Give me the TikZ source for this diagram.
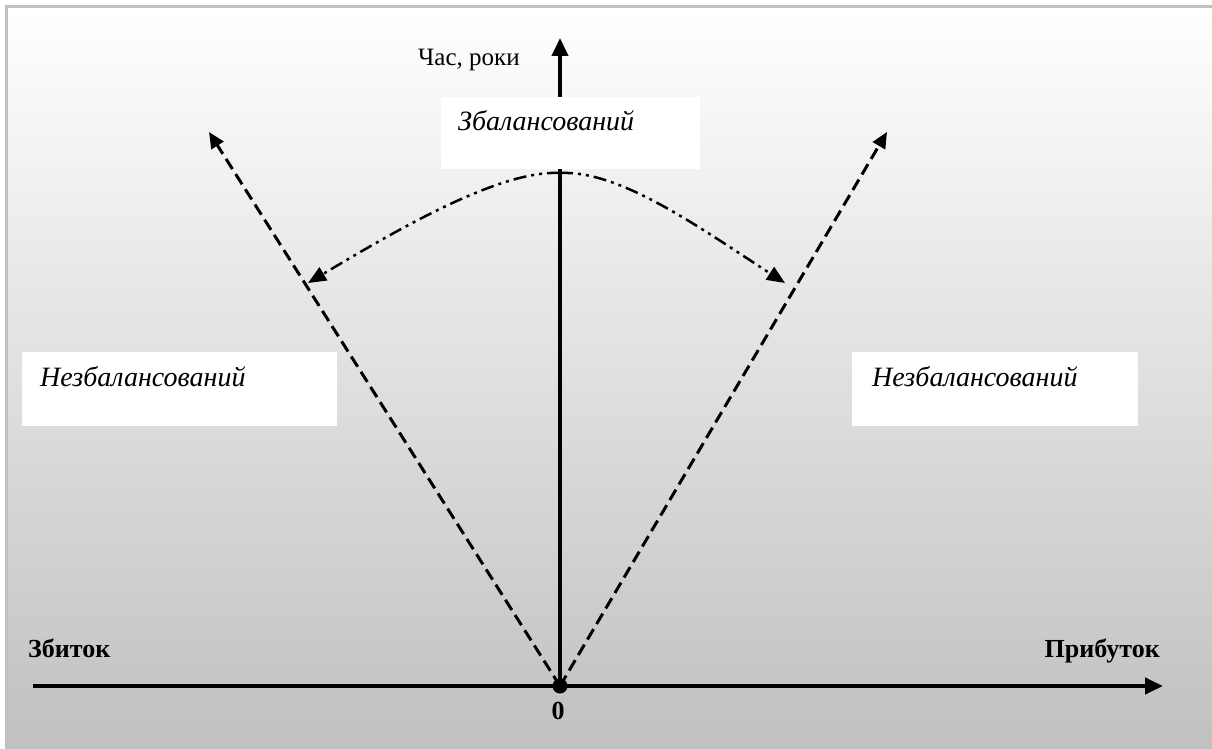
\documentclass[tikz,border=0pt]{standalone}
\usepackage{fontspec}
\setmainfont{Liberation Serif}
\usetikzlibrary{arrows.meta}
\definecolor{frameGray}{RGB}{192,192,192}
\definecolor{bgBottom}{RGB}{192,192,192}
\tikzset{
  axisline/.style={line width=4pt, -{Triangle[length=18pt,width=16pt]}},
  dashline/.style={line width=3pt, dash pattern=on 12pt off 6pt, -{Triangle[length=16pt,width=14pt]}},
  dotline/.style={line width=2.5pt, dash pattern=on 13pt off 5pt on 3pt off 5pt on 3pt off 5pt, -{Triangle[length=18pt,width=15pt]}},
  whitebox/.style={fill=white, anchor=north west, inner ysep=0pt, align=left,
     font=\fontsize{28}{32}\selectfont\itshape},
  axlabel/.style={font=\fontsize{26}{30}\selectfont\bfseries, inner sep=0pt},
}
\begin{document}
\begin{tikzpicture}[x=1pt,y=-1pt]
\useasboundingbox (0,0) rectangle (1212,749);
\shade[top color=white, bottom color=bgBottom] (6,6) rectangle (1212,749);
\draw[frameGray, line width=3pt] (6.5,749) -- (6.5,6.5) -- (1212,6.5);

% coordinates
\node[circle, fill=black, inner sep=0pt, minimum size=15pt] (O) at (560,686) {};
\coordinate (xl) at (33,686);
\coordinate (xr) at (1163,686);
\coordinate (yt) at (560,38);
\coordinate (apex) at (560,173);
\coordinate (ltip) at (209,132);
\coordinate (rtip) at (887,132);
\coordinate (lcurve) at (308,283);
\coordinate (rcurve) at (785,283);

% axes
\draw[axisline] (xl) -- (xr);
\draw[axisline] (O.center) -- (yt);

% dashed rays
\draw[dashline] (O.center) -- (ltip);
\draw[dashline] (O.center) -- (rtip);

% dash-dot curve
\draw[dotline] (apex) .. controls (500,170) and (400,228) .. (lcurve);
\draw[dotline] (apex) .. controls (620,170) and (700,228) .. (rcurve);

% boxes
\node[whitebox, inner xsep=17pt, text width=225pt, text height=33pt, text depth=39pt] (bal) at (441,97) {Збалансований};
\node[whitebox, inner xsep=18pt, text width=279pt, text height=34pt, text depth=40pt] (nbl) at (22,352) {Незбалансований};
\node[whitebox, inner xsep=20pt, text width=246pt, text height=34pt, text depth=40pt] (nbr) at (852,352) {Незбалансований};

% labels
\node[anchor=base west, inner sep=0pt, font=\fontsize{25}{28}\selectfont] (time) at (418,66) {Час, роки};
\node[axlabel, anchor=base west] (loss) at (28,657) {Збиток};
\node[axlabel, anchor=base east] (profit) at (1160,657) {Прибуток};
\node[axlabel, anchor=base] (zero) at (558,719) {0};
\end{tikzpicture}
\end{document}
